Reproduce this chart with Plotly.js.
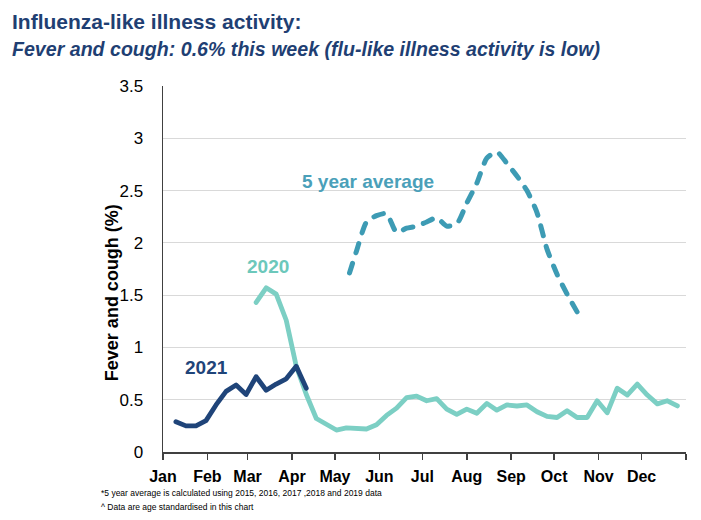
<!DOCTYPE html>
<html>
<head>
<meta charset="utf-8">
<script src="https://cdn.plot.ly/plotly-3.0.1.min.js"></script>
<style>
html,body{margin:0;padding:0;background:#fff;}
#chart{width:701px;height:520px;}
.scatterlayer path.js-line{stroke-linecap:round;stroke-linejoin:round;}
</style>
</head>
<body>
<div id="chart"></div>
<script>
// Week index: week 1 = week ending Sun 10 Jan
const weeks2021 = [1,2,3,4,5,6,7,8,9,10,11,12,13,14];
const values2021 = [0.29,0.25,0.25,0.30,0.45,0.58,0.64,0.55,0.72,0.59,0.65,0.70,0.82,0.61];

const weeks2020 = [9,10,11,12,13,14,15,16,17,18,19,20,21,22,23,24,25,26,27,28,29,30,31,32,33,34,35,36,37,38,39,40,41,42,43,44,45,46,47,48,49,50,51];
const values2020 = [1.43,1.57,1.51,1.26,0.82,0.55,0.32,0.27,0.21,0.23,0.22,0.22,0.26,0.35,0.42,0.52,0.535,0.49,0.51,0.41,0.36,0.41,0.37,0.465,0.40,0.45,0.44,0.45,0.385,0.34,0.33,0.395,0.33,0.33,0.49,0.375,0.61,0.545,0.65,0.545,0.46,0.49,0.44];

const weeksAvg = [18,19,20,21,22,23,24,25,26,27,28,29,30,31,32,33,34,35,36,37,38,39,40,41];
const valuesAvg = [1.62,1.92,2.20,2.26,2.28,2.10,2.14,2.16,2.20,2.24,2.16,2.18,2.38,2.57,2.81,2.87,2.76,2.64,2.50,2.29,1.94,1.70,1.51,1.34];

const monthTickDates = ['2021-01-01','2021-02-01','2021-03-01','2021-04-01','2021-05-01','2021-06-01','2021-07-01','2021-08-01','2021-09-01','2021-10-01','2021-11-01','2021-12-01','2022-01-01'];
const monthLabels = ['Jan','Feb','Mar','Apr','May','Jun','Jul','Aug','Sep','Oct','Nov','Dec',''];
const yTickVals = [0,0.5,1,1.5,2,2.5,3,3.5];

function weekDate(w){
  const d = new Date(Date.UTC(2021,0,10 + 7*(w-1)));
  return d.toISOString().slice(0,10);
}

const NAVY = '#1f4479';
const TEAL = '#7ccfc4';
const AVG = '#3d9bb4';
const FONT = '"Liberation Sans Narrow", "Arial Narrow", "Liberation Sans", Arial, sans-serif';
const DASH_ON = 10, DASH_OFF = 11;

const traces = [
  {x: weeks2020.map(weekDate), y: values2020, type:'scatter', mode:'lines', name:'2020',
   line:{color:TEAL, width:4.8}, hoverinfo:'skip'},
  {x: weeks2021.map(weekDate), y: values2021, type:'scatter', mode:'lines', name:'2021',
   line:{color:NAVY, width:4.8}, hoverinfo:'skip'},
  {x: weeksAvg.map(weekDate), y: valuesAvg, type:'scatter', mode:'lines', name:'5 year average',
   line:{color:AVG, width:5, dash: DASH_ON + 'px,' + DASH_OFF + 'px', shape:'spline', smoothing:0.6}, hoverinfo:'skip'}
];

const layout = {
  width:701, height:520,
  margin:{l:163, r:15, t:86, b:68},
  paper_bgcolor:'#fff', plot_bgcolor:'#fff',
  showlegend:false,
  font:{family:FONT, color:'#000'},
  xaxis:{
    type:'date', range:['2021-01-01','2022-01-01'],
    tickmode:'array', tickvals:monthTickDates, ticktext:monthLabels,
    ticks:'outside', ticklen:6, tickwidth:1.5, tickcolor:'#404040',
    ticklabelstandoff:3,
    showline:true, linecolor:'#404040', linewidth:1.5,
    showgrid:false, zeroline:false,
    tickfont:{family:FONT, size:16, color:'#000', weight:'bold'}
  },
  yaxis:{
    range:[0,3.5], tickmode:'array', tickvals:yTickVals,
    showline:true, linecolor:'#404040', linewidth:1.5,
    showgrid:true, gridcolor:'#d9d9d9', gridwidth:1, zeroline:false,
    ticks:'', ticklabelstandoff:15,
    tickfont:{family:FONT, size:17, color:'#000'}
  },
  annotations:[
    {text:'<b>Influenza-like illness activity:</b>', xref:'paper', yref:'paper', x:-0.2925, y:1.175,
     xanchor:'left', yanchor:'middle', showarrow:false, font:{family:FONT, size:21, color:'#1f3f73'}},
    {text:'<b><i>Fever and cough: 0.6% this week (flu-like illness activity is low)</i></b>', xref:'paper', yref:'paper', x:-0.2925, y:1.102,
     xanchor:'left', yanchor:'middle', showarrow:false, font:{family:FONT, size:19.6, color:'#1f3f73'}},
    {text:'<b>Fever and cough (%)</b>', xref:'paper', yref:'paper', x:-0.0975, y:0.434, textangle:-90,
     xanchor:'center', yanchor:'middle', showarrow:false, font:{family:FONT, size:18, color:'#000'}},
    {text:'<b>2021</b>', xref:'paper', yref:'paper', x:0.0841, y:0.232, xanchor:'center', yanchor:'middle',
     showarrow:false, font:{family:FONT, size:19, color:NAVY}},
    {text:'<b>2020</b>', xref:'paper', yref:'paper', x:0.2008, y:0.5055, xanchor:'center', yanchor:'middle',
     showarrow:false, font:{family:FONT, size:19, color:'#6cc8bb'}},
    {text:'<b>5 year average</b>', xref:'paper', yref:'paper', x:0.392, y:0.740, xanchor:'center', yanchor:'middle',
     showarrow:false, font:{family:FONT, size:19, color:'#4aa0b9'}},
    {text:'*5 year average is calculated using 2015, 2016, 2017 ,2018 and 2019 data', xref:'paper', yref:'paper', x:-0.1225, y:-0.112,
     xanchor:'left', yanchor:'middle', showarrow:false, font:{family:FONT, size:8.5, color:'#000'}},
    {text:'^ Data are age standardised in this chart', xref:'paper', yref:'paper', x:-0.1225, y:-0.150,
     xanchor:'left', yanchor:'middle', showarrow:false, font:{family:FONT, size:8.5, color:'#000'}}
  ]
};

Plotly.newPlot('chart', traces, layout, {staticPlot:true, displayModeBar:false}).then(function(gd){
  // align the dash pattern so the dashed line ends on a dash (as in the original)
  const paths = gd.querySelectorAll('.scatterlayer .trace path.js-line');
  const p = paths[paths.length - 1];
  if (p && p.getTotalLength) {
    const L = p.getTotalLength();
    const period = DASH_ON + DASH_OFF;
    const off = ((DASH_ON - L) % period + period) % period;
    p.style.strokeDashoffset = off + 'px';
  }
});
</script>
</body>
</html>
